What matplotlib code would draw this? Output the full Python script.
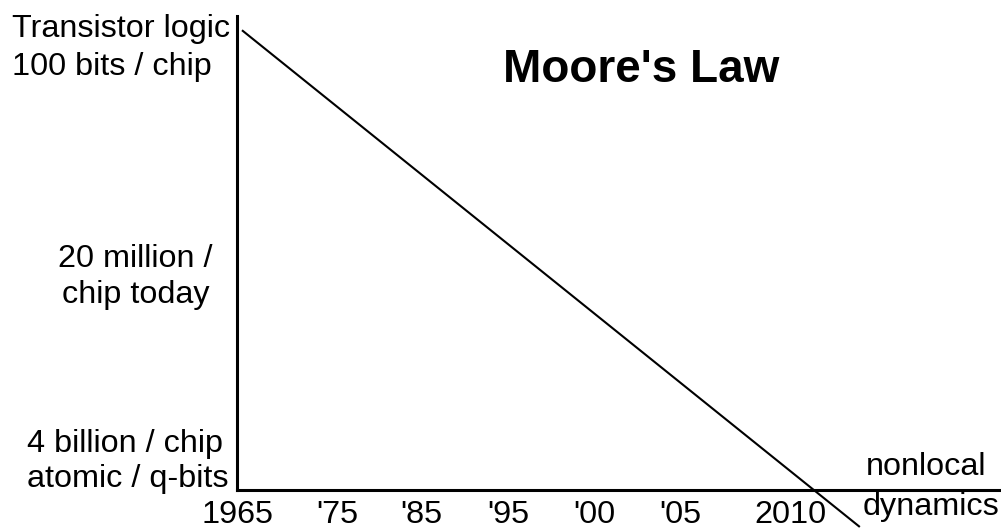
import matplotlib
matplotlib.use("Agg")
import matplotlib.pyplot as plt

# timeline labels along the bottom
year_labels = ["1965", "'75", "'85", "'95", "'00", "'05", "2010"]

# chip density labels on the left (top, middle, bottom)
left_labels = [["Transistor logic", "100 bits / chip"],
               ["20 million /", "chip today"],
               ["4 billion / chip", "atomic / q-bits"]]

right_labels = ["nonlocal", "dynamics"]
title = "Moore's Law"

# the trend line, in axes units (0..1 across the plot box)
trend_x = [0.0, 0.814]
trend_y = [0.970, -0.078]

W, H = 1001, 531
plt.rcParams['font.family'] = ['Liberation Sans', 'DejaVu Sans']

fig = plt.figure(figsize=(W / 100, H / 100), dpi=100)
fig.patch.set_facecolor('white')


def px(x, y):
    # pixel position -> figure fraction
    return x / W, 1 - y / H


# plot box: left spine at x=237, bottom spine at y=490, top of spine at y=16
ax = fig.add_axes([237 / W, (H - 490) / H, (W - 237) / W, (490 - 16) / H])
ax.set_xlim(0, 1)
ax.set_ylim(0, 1)
for side in ['top', 'right']:
    ax.spines[side].set_visible(False)
for side in ['left', 'bottom']:
    ax.spines[side].set_linewidth(2.2)
    ax.spines[side].set_color('black')
ax.set_yticks([])

ax.plot(trend_x, trend_y, color='black', lw=1.5, clip_on=False,
        solid_capstyle='butt')

fs = 23.3

# year ticks (label centres in pixels)
tick_px = [232, 333, 418, 505, 592, 678, 789]
ax.set_xticks([(p - 237) / (W - 237) for p in tick_px])
ax.set_xticklabels(year_labels, fontsize=fs)
ax.tick_params(axis='x', length=0, pad=7.5)

# left label lines: (x, baseline y) in pixels
left_pos = [[(12, 37), (12, 75)],
            [(58, 267), (62, 303)],
            [(27, 452), (27, 487)]]
for lines, pos in zip(left_labels, left_pos):
    for txt, (x, y) in zip(lines, pos):
        fig.text(*px(x, y), txt, fontsize=fs, ha='left', va='baseline')

fig.text(*px(866, 475), right_labels[0], fontsize=fs, ha='left', va='baseline')
fig.text(*px(863, 515), right_labels[1], fontsize=fs, ha='left', va='baseline')

fig.text(*px(503, 82), title, fontsize=33, fontweight='bold',
         ha='left', va='baseline')

fig.savefig('out.png', dpi=100, facecolor='white')
